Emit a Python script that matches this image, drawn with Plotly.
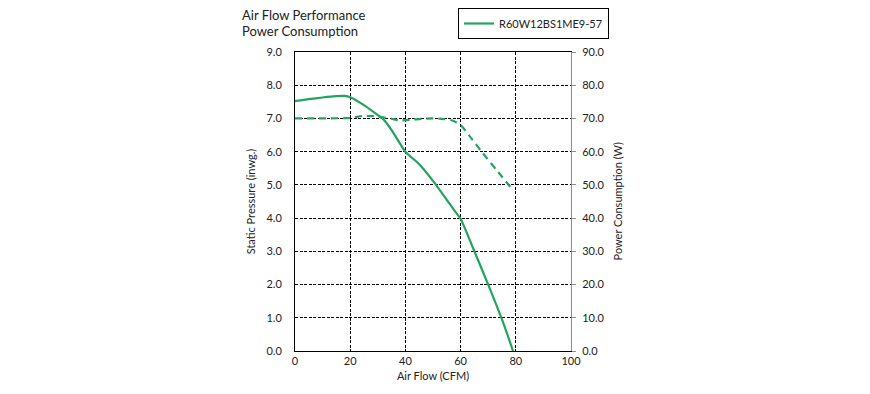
import plotly.graph_objects as go

# Static pressure curve (inwg.) vs air flow (CFM)
pressure_cfm = [0, 5, 10, 15, 18, 20, 25, 30, 32, 35, 40, 45, 50, 55, 58, 60, 65, 70, 75, 79]
pressure_val = [7.52, 7.58, 7.63, 7.67, 7.68, 7.64, 7.40, 7.10, 6.98, 6.65, 6.00, 5.62, 5.12, 4.55, 4.20, 3.98, 3.00, 2.00, 0.95, 0.0]

# Power consumption curve (W) vs air flow (CFM)
power_cfm = [0, 10, 20, 25, 30, 35, 38, 42, 46, 50, 54, 57, 60, 63, 68, 73, 78]
power_val = [70.0, 70.0, 70.2, 70.8, 70.6, 69.9, 69.4, 69.6, 69.9, 70.0, 69.8, 69.4, 68.0, 65.0, 59.6, 54.5, 49.4]

series_name = "R60W12BS1ME9-57"
x_ticks = [0, 20, 40, 60, 80, 100]
y_ticks = [0, 1, 2, 3, 4, 5, 6, 7, 8, 9]
y2_ticks = [0, 10, 20, 30, 40, 50, 60, 70, 80, 90]

GREEN = "#23a35e"
FONT = "Lato"
W, H = 862, 386

fig = go.Figure()
fig.add_trace(go.Scatter(
    x=pressure_cfm, y=pressure_val, mode="lines", name=series_name,
    line=dict(color=GREEN, width=2.2, shape="spline", smoothing=0.6),
    showlegend=True,
))
fig.add_trace(go.Scatter(
    x=power_cfm, y=power_val, mode="lines", name=series_name + " power",
    line=dict(color=GREEN, width=2.2, dash="7px,5px", shape="spline", smoothing=0.6),
    yaxis="y2", showlegend=False,
))

fig.update_layout(
    width=W, height=H,
    margin=dict(l=287, r=299, t=44, b=43, autoexpand=False),
    paper_bgcolor="white", plot_bgcolor="white",
    font=dict(family=FONT, size=11, color="#222"),
    xaxis=dict(
        range=[0, 100], tickvals=x_ticks, ticktext=[str(v) for v in x_ticks],
        showline=True, linecolor="black", linewidth=1, mirror=True,
        showgrid=True, gridcolor="black", gridwidth=1, griddash="3px,1.5px",
        zeroline=False, ticks="", ticklen=0,
        title=dict(text="Air Flow (CFM)", font=dict(size=11), standoff=6),
    ),
    yaxis=dict(
        range=[0, 9], tickvals=y_ticks, ticktext=[f"{v:.1f}" for v in y_ticks],
        showline=True, linecolor="black", linewidth=1,
        showgrid=True, gridcolor="black", gridwidth=1, griddash="3px,1.5px",
        zeroline=False, ticks="", ticklabelstandoff=10,
        title=dict(text="Static Pressure (inwg.)", font=dict(size=11), standoff=8),
    ),
    yaxis2=dict(
        range=[0, 90], tickvals=y2_ticks, ticktext=[f"{v:.1f}" for v in y2_ticks],
        overlaying="y", side="right",
        showline=True, linecolor="#8c8c8c", linewidth=1,
        showgrid=False, zeroline=False,
        ticks="outside", ticklen=4, tickcolor="#8c8c8c", ticklabelstandoff=4,
    ),
    legend=dict(
        xref="container", yref="container",
        x=450 / W, y=1.0, xanchor="left", yanchor="top",
        bordercolor="black", borderwidth=1, bgcolor="white",
        font=dict(size=11), itemwidth=30,
    ),
    annotations=[
        dict(text="Air Flow Performance", xref="paper", yref="paper",
             x=-0.2, y=1 + 37 / 299, xanchor="left", yanchor="middle", align="left",
             showarrow=False, font=dict(size=13, family=FONT, color="#222")),
        dict(text="Power Consumption", xref="paper", yref="paper",
             x=-0.2, y=1 + 21 / 299, xanchor="left", yanchor="middle", align="left",
             showarrow=False, font=dict(size=13, family=FONT, color="#222")),
        dict(text="Power Consumption (W)", xref="paper", yref="paper",
             x=1.17, y=0.5, xanchor="center", yanchor="middle", textangle=-90,
             showarrow=False, font=dict(size=11, family=FONT, color="#222")),
    ],
)

fig.write_html("out.html")
